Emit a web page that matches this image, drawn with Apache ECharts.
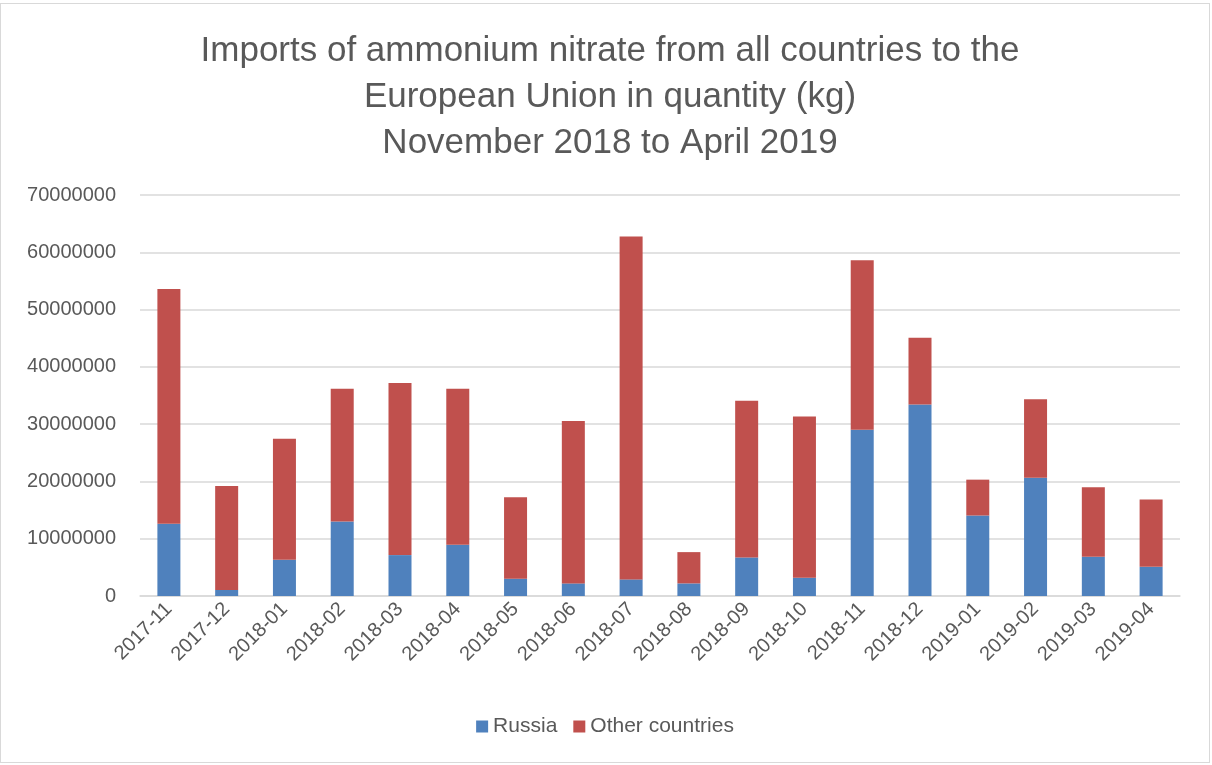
<!DOCTYPE html>
<html>
<head>
<meta charset="utf-8">
<script src="https://cdn.jsdelivr.net/npm/echarts@6/dist/echarts.min.js"></script>
<style>
html,body{margin:0;padding:0;background:#fff;}
#c{position:absolute;left:0;top:3px;width:1210px;height:760px;border:1px solid #d9d9d9;box-sizing:border-box;}
</style>
</head>
<body>
<div id="c"></div>
<script>
var categories = ['2017-11','2017-12','2018-01','2018-02','2018-03','2018-04','2018-05','2018-06','2018-07','2018-08','2018-09','2018-10','2018-11','2018-12','2019-01','2019-02','2019-03','2019-04'];
var russia = [12600000,1050000,6330000,13000000,7140000,8940000,3020000,2200000,2900000,2200000,6730000,3190000,29020000,33430000,14050000,20660000,6850000,5100000];
var other = [41000000,18150000,21120000,23160000,30060000,27220000,14220000,28330000,59840000,5460000,27340000,28150000,29600000,11670000,6260000,13700000,12130000,11730000];

var chart = echarts.init(document.getElementById('c'));
var font = '"Liberation Sans", Arial, sans-serif';
chart.setOption({
  animation:false,
  title:{
    text:'Imports of ammonium nitrate from all countries to the\nEuropean Union in quantity (kg)\nNovember 2018 to April 2019',
    left:'50%', top:19, textAlign:'center',
    textStyle:{fontFamily:font,fontSize:35,fontWeight:'normal',color:'#595959',lineHeight:46}
  },
  legend:{
    bottom:20, left:'center', itemWidth:12, itemHeight:12, itemGap:16,
    icon:'rect',
    textStyle:{fontFamily:font,fontSize:21,color:'#595959'},
    data:['Russia','Other countries']
  },
  grid:{left:139,right:29,top:191,bottom:166},
  xAxis:{
    type:'category', data:categories,
    axisLine:{lineStyle:{color:'#d9d9d9',width:1.5}},
    axisTick:{show:false},
    axisLabel:{rotate:45,fontFamily:font,fontSize:20,color:'#595959',margin:10,interval:0}
  },
  yAxis:{
    type:'value', min:0, max:70000000, interval:10000000,
    axisLine:{show:false}, axisTick:{show:false},
    splitLine:{lineStyle:{color:'#d9d9d9',width:1.5}},
    axisLabel:{fontFamily:font,fontSize:20,color:'#595959',margin:24,formatter:function(v){return String(v);}}
  },
  series:[
    {name:'Russia',type:'bar',stack:'a',data:russia,barWidth:23,itemStyle:{color:'#4F81BD'}},
    {name:'Other countries',type:'bar',stack:'a',data:other,barWidth:23,itemStyle:{color:'#C0504D'}}
  ]
});
</script>
</body>
</html>
